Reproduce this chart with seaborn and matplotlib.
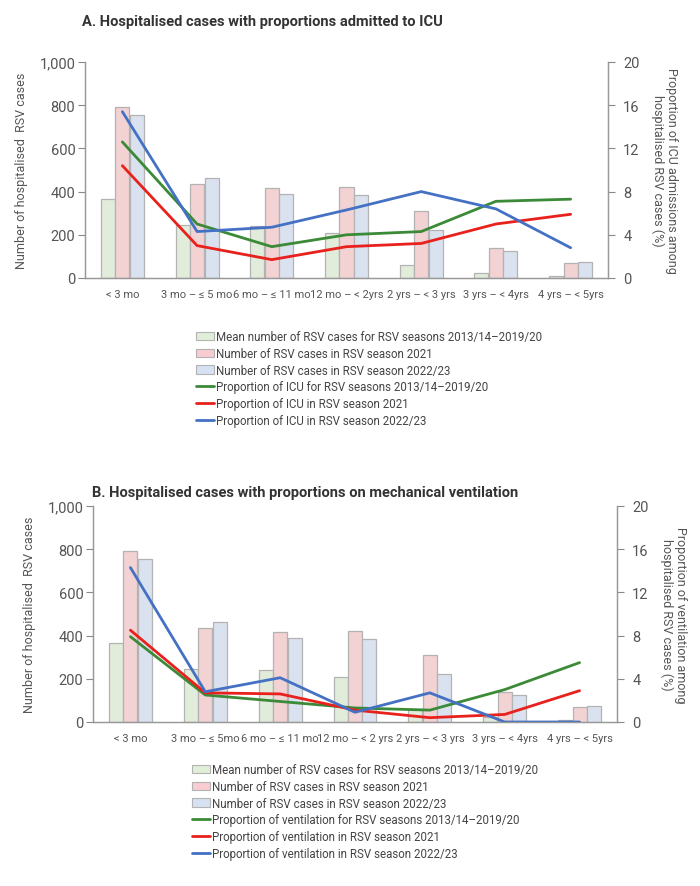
import numpy as np
import pandas as pd
import matplotlib
matplotlib.use("Agg")
from matplotlib import pyplot as plt
from matplotlib.patches import Patch
from matplotlib.lines import Line2D
import seaborn as sns

# age groups (x tick labels of the two panels)
ages_a = ["< 3 mo", "3 mo \u2013 \u2264 5 mo", "6 mo \u2013 \u2264 11 mo", "12 mo \u2013 < 2yrs",
          "2 yrs \u2013 < 3 yrs", "3 yrs \u2013 < 4yrs", "4 yrs \u2013 < 5yrs"]
ages_b = ["< 3 mo", "3 mo \u2013 \u2264 5mo", "6 mo \u2013 \u2264 11 mo", "12 mo \u2013 < 2 yrs",
          "2 yrs \u2013 < 3 yrs", "3 yrs \u2013 < 4yrs", "4 yrs \u2013 < 5yrs"]

# hospitalised cases (same in both panels)
mean_cases = [365, 245, 242, 207, 62, 22, 7]
cases_2021 = [790, 435, 415, 420, 308, 138, 68]
cases_2022 = [755, 462, 387, 385, 222, 124, 72]

# proportion admitted to ICU (%)
icu_mean = [12.6, 5.0, 2.9, 4.0, 4.3, 7.1, 7.3]
icu_2021 = [10.4, 3.0, 1.7, 2.9, 3.2, 5.0, 5.9]
icu_2022 = [15.4, 4.3, 4.7, 6.3, 8.0, 6.4, 2.8]

# proportion on mechanical ventilation (%)
vent_mean = [7.9, 2.5, 1.9, 1.3, 1.1, 3.0, 5.5]
vent_2021 = [8.5, 2.7, 2.6, 1.1, 0.4, 0.7, 2.9]
vent_2022 = [14.3, 2.8, 4.1, 0.9, 2.7, 0.0, 0.0]

bar_series = ["Mean number of RSV cases for RSV seasons 2013/14\u20132019/20",
              "Number of RSV cases in RSV season 2021",
              "Number of RSV cases in RSV season 2022/23"]

bar_colors = ["#e0efd8", "#f8ccd0", "#d6e1f3"]
line_colors = ["#3b8a37", "#e8211d", "#4471c3"]
edge = "#b3b3b3"
txt = "#555555"

sns.set_style("white")
plt.rcParams["font.family"] = ["Roboto", "DejaVu Sans"]

fig = plt.figure(figsize=(7, 8.87), dpi=100)


def panel(rect, ages, lines, line_labels, right_label, title, title_xy, leg_xy):
    ax = fig.add_axes(rect)
    df = pd.DataFrame({
        "age": ages * 3,
        "cases": mean_cases + cases_2021 + cases_2022,
        "series": [bar_series[0]] * 7 + [bar_series[1]] * 7 + [bar_series[2]] * 7,
    })
    sns.barplot(data=df, x="age", y="cases", hue="series", palette=bar_colors,
                width=0.58, gap=0.03, edgecolor=edge, linewidth=0.9,
                legend=False, ax=ax)
    ax.set_ylim(0, 1000)
    ax.set_xlim(-0.5, 6.5)
    ax.set_yticks(range(0, 1001, 200))
    ax.set_yticklabels(["0", "200", "400", "600", "800", "1,000"])
    ax.set_xlabel("")
    ax.set_ylabel("Number of hospitalised  RSV cases", color=txt, fontsize=9, labelpad=8)
    ax.tick_params(axis="y", length=5, color="#888888", labelcolor=txt, labelsize=10.5,
                   direction="out", left=True, pad=2)
    ax.tick_params(axis="x", length=0, labelcolor=txt, labelsize=8, pad=8)

    ax2 = ax.twinx()
    for vals, c in zip(lines, line_colors):
        sns.lineplot(x=ages, y=vals, sort=False, color=c, linewidth=2, ax=ax2)
    ax2.set_ylim(0, 20)
    ax2.set_yticks(range(0, 21, 4))
    ax2.set_ylabel(right_label, rotation=270, va="bottom", color=txt, fontsize=9,
                   labelpad=8, linespacing=1.05)
    ax2.tick_params(axis="y", length=5, color="#888888", labelcolor=txt, labelsize=10.5,
                    direction="out", right=True, pad=6)

    for a in (ax, ax2):
        a.spines["top"].set_visible(False)
        for s in ("left", "bottom", "right"):
            a.spines[s].set_color("#999999")
            a.spines[s].set_linewidth(0.9)

    handles = [Patch(facecolor=c, edgecolor=edge, linewidth=0.8) for c in bar_colors]
    handles += [Line2D([0], [0], color=c, linewidth=2) for c in line_colors]
    fig.legend(handles, bar_series + line_labels, loc="upper left",
               bbox_to_anchor=leg_xy, bbox_transform=fig.transFigure,
               frameon=False, fontsize=8.3, labelcolor="#444444",
               handlelength=1.6, handleheight=0.75, handletextpad=0.15,
               labelspacing=0.33, borderaxespad=0, borderpad=0)

    fig.text(title_xy[0], title_xy[1], title, fontsize=10.5, fontweight="bold",
             color="#333333", va="center", ha="left")


panel([85 / 700, 1 - 279 / 887, 523 / 700, 216 / 887], ages_a,
      [icu_mean, icu_2021, icu_2022],
      ["Proportion of ICU for RSV seasons 2013/14\u20132019/20",
       "Proportion of ICU in RSV season 2021",
       "Proportion of ICU in RSV season 2022/23"],
      "Proportion of ICU admissions among\nhospitalised RSV cases (%)",
      "A. Hospitalised cases with proportions admitted to ICU",
      (82 / 700, 1 - 22 / 887), (196 / 700, 1 - 331 / 887))

panel([93 / 700, 1 - 723 / 887, 524 / 700, 216 / 887], ages_b,
      [vent_mean, vent_2021, vent_2022],
      ["Proportion of ventilation for RSV seasons 2013/14\u20132019/20",
       "Proportion of ventilation in RSV season 2021",
       "Proportion of ventilation in RSV season 2022/23"],
      "Proportion of ventilation among\nhospitalised RSV cases (%)",
      "B. Hospitalised cases with proportions on mechanical ventilation",
      (92 / 700, 1 - 493 / 887), (192 / 700, 1 - 764 / 887))

fig.savefig("out.png", dpi=100)
